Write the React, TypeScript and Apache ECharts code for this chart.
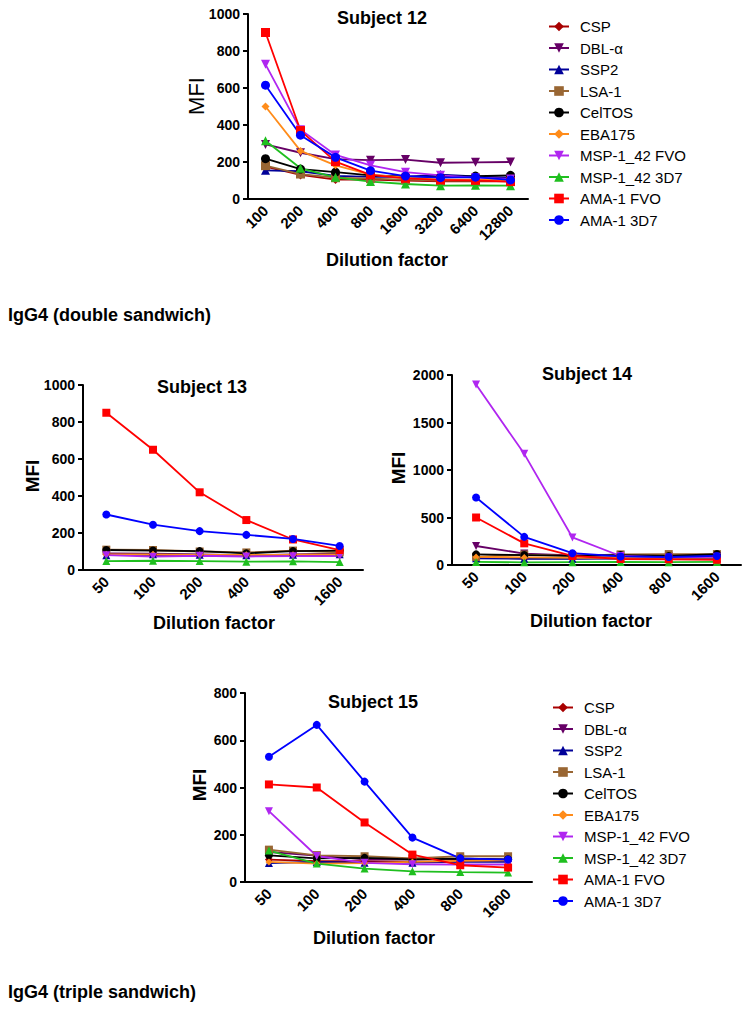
import React, { useEffect, useRef } from 'react';
import * as echarts from 'echarts';

const antigens = ['CSP', 'DBL-α', 'SSP2', 'LSA-1', 'CelTOS', 'EBA175', 'MSP-1_42 FVO', 'MSP-1_42 3D7', 'AMA-1 FVO', 'AMA-1 3D7'];
const colors = ['#A80000', '#660066', '#000099', '#996633', '#000000', '#FF8C1A', '#B026F0', '#1FBF1F', '#FF0000', '#0000FF'];
const DOWN = 'path://M0,0L10,0L5,9Z';
const symbols = ['diamond', DOWN, 'triangle', 'rect', 'circle', 'diamond', DOWN, 'triangle', 'rect', 'circle'];

const dilutions12 = ['100', '200', '400', '800', '1600', '3200', '6400', '12800'];
const dilutions = ['50', '100', '200', '400', '800', '1600'];

// rows follow the order of `antigens`
const subject12 = [
  [175, 130, 105, 105, 100, 95, 95, 95],
  [295, 250, 215, 210, 213, 196, 198, 200],
  [155, 150, 125, 120, 120, 132, 122, 115],
  [180, 135, 115, 110, 105, 100, 100, 100],
  [218, 162, 145, 128, 122, 118, 124, 128],
  [500, 260, 182, 132, 115, 105, 105, 100],
  [728, 375, 238, 182, 145, 128, 115, 108],
  [315, 166, 117, 94, 81, 72, 74, 72],
  [900, 370, 202, 130, 112, 103, 101, 94],
  [615, 345, 225, 153, 124, 115, 118, 103],
];
const subject13 = [
  [85, 82, 80, 78, 80, 82],
  [90, 88, 85, 80, 85, 88],
  [80, 85, 82, 80, 82, 85],
  [110, 108, 100, 95, 105, 95],
  [108, 105, 102, 90, 102, 105],
  [85, 85, 82, 82, 83, 85],
  [80, 72, 77, 73, 75, 75],
  [48, 50, 48, 45, 47, 43],
  [850, 650, 420, 270, 165, 108],
  [300, 245, 210, 190, 168, 130],
];
const subject14 = [
  [75, 70, 70, 70, 70, 70],
  [200, 120, 100, 100, 95, 100],
  [70, 65, 65, 70, 68, 70],
  [85, 110, 95, 112, 115, 115],
  [112, 105, 95, 105, 95, 115],
  [85, 80, 75, 75, 75, 78],
  [1900, 1170, 290, 95, 80, 87],
  [32, 28, 30, 32, 30, 32],
  [500, 228, 95, 63, 60, 55],
  [710, 296, 124, 90, 84, 95],
];
const subject15 = [
  [95, 88, 88, 85, 88, 88],
  [127, 112, 96, 95, 98, 95],
  [80, 85, 82, 82, 85, 85],
  [137, 113, 109, 100, 109, 109],
  [113, 100, 102, 96, 99, 96],
  [85, 78, 80, 85, 89, 92],
  [300, 110, 81, 75, 74, 74],
  [133, 78, 57, 45, 42, 40],
  [413, 400, 252, 116, 71, 61],
  [530, 665, 425, 188, 100, 95],
];

const yMax = [1000, 1000, 2000, 800];
const yInterval = [200, 200, 500, 200];

const FONT = '"Liberation Sans", Arial, Helvetica, sans-serif';

export default function App() {
  const ref = useRef<HTMLDivElement>(null);
  useEffect(() => {
    if (!ref.current) return;
    const chart = echarts.init(ref.current, undefined, { renderer: 'svg' });
    const grids = [
      { left: 248, top: 14, width: 280, height: 185 },
      { left: 83, top: 385, width: 280, height: 185 },
      { left: 452, top: 375, width: 289, height: 190 },
      { left: 245, top: 693, width: 287, height: 189 },
    ];
    const cats = [dilutions12, dilutions, dilutions, dilutions];
    const datasets = [subject12, subject13, subject14, subject15];
    const symSize = [9, 8, 8, 8];

    const xAxis = cats.map((c, i) => ({
      type: 'category',
      gridIndex: i,
      data: c,
      boundaryGap: true,
      axisLine: { lineStyle: { color: '#000', width: 2 } },
      axisTick: { alignWithLabel: true, length: 6, lineStyle: { color: '#000', width: 2 } },
      axisLabel: { rotate: 45, margin: 9, color: '#000', fontWeight: 'bold', fontSize: 15, fontFamily: FONT, interval: 0 },
      splitLine: { show: false },
    }));
    const yAxis = cats.map((c, i) => ({
      type: 'value',
      gridIndex: i,
      min: 0,
      max: yMax[i],
      interval: yInterval[i],
      axisLine: { show: true, lineStyle: { color: '#000', width: 2 } },
      axisTick: { show: true, length: 5, lineStyle: { color: '#000', width: 2 } },
      axisLabel: {
        margin: 8,
        color: '#000',
        fontWeight: 'bold',
        fontSize: 14,
        fontFamily: FONT,
        formatter: (v: number) => String(v),
      },
      splitLine: { show: false },
    }));
    const series: any[] = [];
    datasets.forEach((ds, gi) => {
      ds.forEach((vals, ai) => {
        series.push({
          type: 'line',
          name: antigens[ai],
          xAxisIndex: gi,
          yAxisIndex: gi,
          data: vals,
          symbol: symbols[ai],
          symbolSize: ai === 5 ? symSize[gi] - 1 : symSize[gi],
          showSymbol: true,
          lineStyle: { color: colors[ai], width: 1.8 },
          itemStyle: { color: colors[ai] },
          emphasis: { disabled: true },
        });
      });
    });
    const legendCommon = {
      orient: 'vertical',
      data: antigens,
      itemWidth: 20,
      itemHeight: 12,
      itemGap: 6.5,
      padding: 0,
      selectedMode: false,
      textStyle: { fontSize: 15, color: '#000', fontFamily: FONT, padding: [0, 0, 0, 6] },
    };
    const txt = (x: number, y: number, text: string, size: number, bold: boolean, rot = 0, align = 'center') => ({
      type: 'text',
      x,
      y,
      rotation: rot,
      style: {
        text,
        fontSize: size,
        fontWeight: bold ? 'bold' : 'normal',
        fontFamily: FONT,
        fill: '#000',
        textAlign: align,
        textVerticalAlign: 'middle',
      },
    });
    const graphic = [
      txt(382, 18, 'Subject 12', 18, true),
      txt(202, 387, 'Subject 13', 18, true),
      txt(587, 374, 'Subject 14', 18, true),
      txt(373, 702, 'Subject 15', 18, true),
      txt(196, 96, 'MFI', 22, false, Math.PI / 2),
      txt(32, 476, 'MFI', 19, true, Math.PI / 2),
      txt(398, 468, 'MFI', 19, true, Math.PI / 2),
      txt(199, 785, 'MFI', 19, true, Math.PI / 2),
      txt(387, 260, 'Dilution factor', 18, true),
      txt(214, 623, 'Dilution factor', 18, true),
      txt(591, 621, 'Dilution factor', 18, true),
      txt(374, 938, 'Dilution factor', 18, true),
      txt(8, 315, 'IgG4 (double sandwich)', 18, true, 0, 'left'),
      txt(8, 992, 'IgG4 (triple sandwich)', 18, true, 0, 'left'),
    ];
    chart.setOption({
      animation: false,
      backgroundColor: '#fff',
      grid: grids,
      xAxis,
      yAxis,
      series,
      legend: [
        { ...legendCommon, left: 548, top: 19 },
        { ...legendCommon, left: 552, top: 700 },
      ],
      graphic,
    } as any);
    return () => chart.dispose();
  }, []);
  return <div ref={ref} style={{ position: 'absolute', left: 0, top: 0, width: 751, height: 1014 }} />;
}
